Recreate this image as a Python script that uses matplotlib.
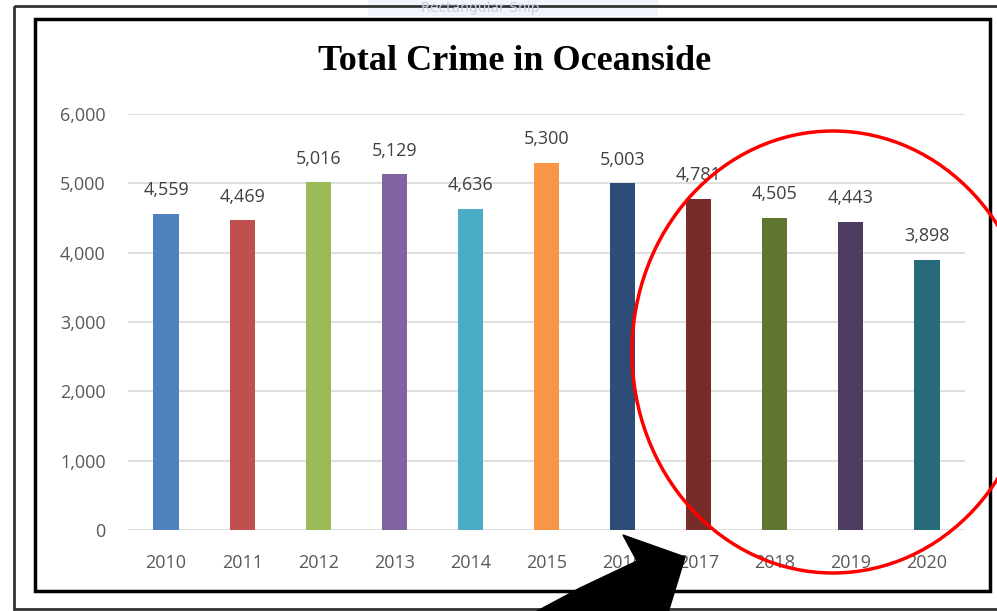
#total crime in oceanside - excel style bar chart screenshot

import matplotlib.pyplot as plt
from matplotlib.patches import Rectangle, Ellipse, Polygon

#----------------------------------------------------------------------------------

years = ["2010", "2011", "2012", "2013", "2014", "2015", "2016", "2017", "2018", "2019", "2020"]
crimes = [4559, 4469, 5016, 5129, 4636, 5300, 5003, 4781, 4505, 4443, 3898]
bar_colors = ["#4f81bd", "#c0504d", "#9bbb59", "#8064a2", "#4bacc6", "#f79646",
              "#2c4d75", "#772c2a", "#5f7530", "#4d3b62", "#276a7c"]
y_ticks = [0, 1000, 2000, 3000, 4000, 5000, 6000]

#----------------------------------------------------------------------------------

W, H = 997, 611
fig = plt.figure(figsize=(W / 100, H / 100), dpi=100)
fig.patch.set_facecolor("white")

ax = fig.add_axes([128 / W, 1 - 530 / H, (965 - 128) / W, (530 - 114) / H])
x_pos = range(len(years))
bars = ax.bar(x_pos, crimes, width=0.33, color=bar_colors, zorder=3)
ax.set_xlim(-0.5, len(years) - 0.5)
ax.set_ylim(0, 6000)
ax.set_yticks(y_ticks)
ax.set_yticklabels(["{:,}".format(v) for v in y_ticks])
ax.set_xticks(list(x_pos))
ax.set_xticklabels(years)
ax.grid(axis="y", color="#d9d9d9", linewidth=1.2, zorder=0)
for s in ax.spines.values():
    s.set_visible(False)
ax.tick_params(axis="both", length=0, labelsize=13, labelcolor="#595959")
ax.tick_params(axis="y", pad=16)
ax.tick_params(axis="x", pad=17)
for lab in ax.get_xticklabels() + ax.get_yticklabels():
    lab.set_fontfamily("Open Sans")

for i, v in enumerate(crimes):
    ax.annotate("{:,}".format(v), (i, v), xytext=(0, 17), textcoords="offset points",
                ha="center", va="center", fontsize=13, color="#404040", family="Open Sans")

fig.text(515 / W, 1 - 62 / H, "Total Crime in Oceanside", ha="center", va="center",
         fontsize=26, fontweight="bold", family="Liberation Serif", color="black")

#----------------------------------------------------------------------------------
#overlay in pixel coordinates: screenshot frames, red ellipse, black arrow

ov = fig.add_axes([0, 0, 1, 1], zorder=10)
ov.set_xlim(0, W)
ov.set_ylim(H, 0)
ov.axis("off")
ov.patch.set_alpha(0)

ov.add_patch(Rectangle((368, -4), 290, 20, facecolor="#f1f5fb", edgecolor="none"))
ov.text(480, 8, "Rectangular Snip", ha="center", va="center", fontsize=10,
        color="#c3d0e2", family="DejaVu Sans")
ov.add_patch(Rectangle((14, 6), 1100, 603, fill=False, edgecolor="#333333", linewidth=2))
ov.add_patch(Rectangle((35, 19), 955, 572, fill=False, edgecolor="black", linewidth=2.5))

ov.add_patch(Ellipse((833, 352), 402, 442, fill=False, edgecolor="#ff0000", linewidth=2.5))

arrow = [(528, 616), (580, 588), (637, 561), (623, 535), (685, 557),
         (667, 616), (667, 620), (528, 620)]
ov.add_patch(Polygon(arrow, closed=True, facecolor="black", edgecolor="black"))

#----------------------------------------------------------------------------------

fig.savefig("out.png", dpi=100)
